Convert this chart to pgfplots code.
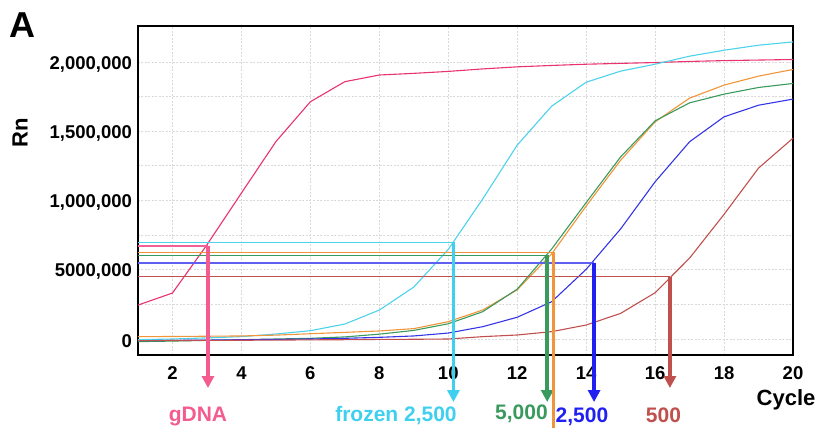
\documentclass[border=0pt]{standalone}
\usepackage{pgfplots}
\pgfplotsset{compat=1.18}
\usepackage{fontspec}
\setmainfont{Liberation Sans}
\usetikzlibrary{arrows.meta}
\definecolor{pinkC}{HTML}{E8336E}
\definecolor{pinkT}{HTML}{F2609A}
\definecolor{pinkA}{HTML}{F45C8F}
\definecolor{cyanC}{HTML}{4DD2EC}
\definecolor{cyanA}{HTML}{3FD0F0}
\definecolor{greenC}{HTML}{3A9A5E}
\definecolor{orangeC}{HTML}{F0953A}
\definecolor{blueC}{HTML}{3535E8}
\definecolor{blueT}{HTML}{6060F0}
\definecolor{blueA}{HTML}{2020F0}
\definecolor{redC}{HTML}{C0504D}
\begin{document}
\begin{tikzpicture}
\begin{axis}[
  scale only axis, width=655bp, height=329bp,
  xmin=1, xmax=20, ymin=-115500, ymax=2259900,
  xtick={2,4,...,20},
  ytick={0,500000,1000000,1500000,2000000},
  yticklabels={0,{5000,000},{1,000,000},{1,500,000},{2,000,000}},
  minor ytick={250000,750000,1250000,1750000},
  grid=both,
  major grid style={gray!30, line width=0.8bp, dash pattern=on 2bp off 1.5bp},
  minor grid style={gray!30, line width=0.8bp, dash pattern=on 2bp off 1.5bp},
  major tick length=0pt, minor tick length=0pt,
  axis line style={line width=1.7bp, black},
  tick label style={font=\fontsize{18.5bp}{20bp}\selectfont\bfseries},
  /pgf/number format/assume math mode=true,
  xticklabel style={yshift=-8bp},
  yticklabel style={yshift=-2bp, xshift=-2.5bp},
  scaled y ticks=false,
  clip=false,
]
% curves
\addplot[pinkC, line width=1.1bp] coordinates {(1,245000)(2,332000)(3,680000)(4,1054000)(5,1425000)(6,1713000)(7,1858000)(8,1906000)(9,1918000)(10,1932000)(11,1950000)(12,1965000)(13,1975000)(14,1984000)(15,1990000)(16,1996000)(17,2004000)(18,2010000)(19,2014000)(20,2018000)};
\addplot[cyanC, line width=1.1bp] coordinates {(1,-5000)(2,0)(3,8000)(4,17000)(5,36000)(6,60000)(7,108000)(8,209000)(9,375000)(10,647000)(11,1011000)(12,1400000)(13,1681000)(14,1854000)(15,1934000)(16,1984000)(17,2042000)(18,2085000)(19,2121000)(20,2145000)};
\addplot[orangeC, line width=1.1bp] coordinates {(1,17000)(2,18000)(3,20000)(4,22000)(5,28000)(6,38000)(7,48000)(8,58000)(9,75000)(10,125000)(11,209000)(12,355000)(13,615000)(14,960000)(15,1291000)(16,1568000)(17,1739000)(18,1833000)(19,1898000)(20,1946000)};
\addplot[greenC, line width=1.1bp] coordinates {(1,-19000)(2,-15000)(3,-10000)(4,-5000)(5,0)(6,5000)(7,15000)(8,35000)(9,62000)(10,110000)(11,197000)(12,360000)(13,650000)(14,985000)(15,1315000)(16,1575000)(17,1705000)(18,1768000)(19,1816000)(20,1845000)};
\addplot[blueC, line width=1.1bp] coordinates {(1,-12000)(2,-10000)(3,-8000)(4,-5000)(5,-3000)(6,0)(7,5000)(8,12000)(9,22000)(10,43000)(11,89000)(12,157000)(13,269000)(14,503000)(15,795000)(16,1135000)(17,1424000)(18,1604000)(19,1688000)(20,1732000)};
\addplot[redC, line width=1.1bp] coordinates {(1,-12000)(2,-11000)(3,-10000)(4,-9000)(5,-8000)(6,-6000)(7,-5000)(8,-3000)(9,-2000)(10,0)(11,17000)(12,29000)(13,53000)(14,101000)(15,185000)(16,334000)(17,584000)(18,900000)(19,1234000)(20,1450000)};
% threshold lines
\addplot[cyanC, line width=1bp] coordinates {(1,698000)(10.15,698000)};
\addplot[pinkT, line width=2bp] coordinates {(1,674000)(3.03,674000)};
\addplot[orangeC, line width=1.3bp] coordinates {(1,626000)(13.05,626000)};
\addplot[greenC, line width=1bp] coordinates {(1,604000)(12.87,604000)};
\addplot[blueT, line width=1.8bp] coordinates {(1,551000)(14.23,551000)};
\addplot[redC, line width=1bp] coordinates {(1,450000)(16.43,450000)};
% arrows
\addplot[pinkA, line width=3.5bp, -{Triangle[width=12bp,length=12bp]}] coordinates {(3.03,674000)(3.03,-354000)};
\addplot[cyanA, line width=3.5bp, -{Triangle[width=12bp,length=12bp]}] coordinates {(10.15,698000)(10.15,-455000)};
\addplot[greenC, line width=3.5bp, -{Triangle[width=12bp,length=12bp]}] coordinates {(12.87,604000)(12.87,-455000)};
\addplot[orangeC, line width=3.5bp] coordinates {(13.05,626000)(13.05,-650000)};
\addplot[blueA, line width=3.5bp, -{Triangle[width=12bp,length=12bp]}] coordinates {(14.23,551000)(14.23,-455000)};
\addplot[redC, line width=3.5bp, -{Triangle[width=12bp,length=12bp]}] coordinates {(16.43,450000)(16.43,-354000)};
\end{axis}
\begin{scope}[shift={(current axis.south west)}]
\node[anchor=base, inner sep=0pt, font=\fontsize{21bp}{23bp}\selectfont\bfseries, text=pinkA] at (60bp,-66bp) {gDNA};
\node[anchor=base, inner sep=0pt, font=\fontsize{21bp}{23bp}\selectfont\bfseries, text=cyanA] at (258bp,-66bp) {frozen 2,500};
\node[anchor=base, inner sep=0pt, font=\fontsize{21bp}{23bp}\selectfont\bfseries, text=greenC] at (383.5bp,-64bp) {5,000};
\node[anchor=base, inner sep=0pt, font=\fontsize{21bp}{23bp}\selectfont\bfseries, text=blueA] at (444bp,-67bp) {2,500};
\node[anchor=base, inner sep=0pt, font=\fontsize{21bp}{23bp}\selectfont\bfseries, text=redC] at (525.5bp,-67bp) {500};
\node[anchor=base, inner sep=0pt, font=\fontsize{22bp}{24bp}\selectfont\bfseries] at (648bp,-50bp) {Cycle};
\node[anchor=center, inner sep=0pt, rotate=90, font=\fontsize{22bp}{24bp}\selectfont\bfseries] at (-118bp,222bp) {Rn};
\node[anchor=base west, inner sep=0pt, font=\fontsize{36bp}{38bp}\selectfont\bfseries] at (-129bp,317bp) {A};
\end{scope}
\pgfresetboundingbox
\path[use as bounding box] ([shift={(-138bp,-73bp)}]current axis.south west) rectangle ([shift={(27bp,26bp)}]current axis.north east);
\end{tikzpicture}
\end{document}
